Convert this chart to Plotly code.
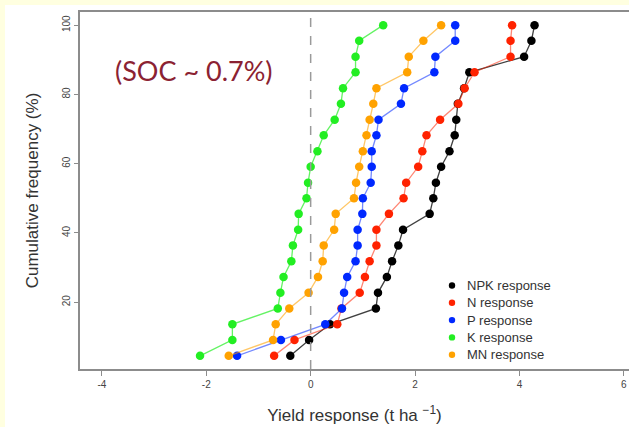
import plotly.graph_objects as go

# ---------------- data ----------------
cum_freq = [4.5, 9.1, 13.6, 18.2, 22.7, 27.3, 31.8, 36.4, 40.9, 45.5, 50.0,
            54.5, 59.1, 63.6, 68.2, 72.7, 77.3, 81.8, 86.4, 90.9, 95.5, 100.0]

npk_response = [-0.39, -0.03, 0.37, 1.25, 1.29, 1.46, 1.56, 1.68, 1.77, 2.28, 2.35,
                2.40, 2.50, 2.66, 2.76, 2.79, 2.82, 2.94, 3.04, 4.09, 4.23, 4.29]
n_response = [-0.70, -0.31, 0.51, 0.59, 0.94, 1.04, 1.13, 1.26, 1.26, 1.50, 1.78,
              1.83, 2.06, 2.14, 2.22, 2.48, 2.83, 2.95, 3.14, 3.83, 3.83, 3.86]
p_response = [-1.41, -0.57, 0.28, 0.60, 0.64, 0.70, 0.86, 0.90, 0.90, 0.99, 1.00,
              1.15, 1.17, 1.17, 1.26, 1.30, 1.73, 1.79, 2.37, 2.39, 2.77, 2.77]
k_response = [-2.12, -1.50, -1.50, -0.63, -0.58, -0.52, -0.37, -0.34, -0.24, -0.23, -0.08,
              -0.05, 0.00, 0.13, 0.25, 0.46, 0.58, 0.62, 0.86, 0.86, 0.93, 1.39]
mn_response = [-1.57, -0.72, -0.67, -0.41, -0.04, 0.14, 0.23, 0.25, 0.45, 0.48, 0.83,
               0.87, 0.93, 1.00, 1.07, 1.13, 1.20, 1.26, 1.85, 1.88, 2.16, 2.50]

series_names = ["NPK response", "N response", "P response", "K response", "MN response"]
series_values = [npk_response, n_response, p_response, k_response, mn_response]

x_tick_vals = [-4, -2, 0, 2, 4, 6]
x_tick_text = ["-4", "-2", "0", "2", "4", "6"]
y_tick_vals = [20, 40, 60, 80, 100]
y_tick_text = ["20", "40", "60", "80", "100"]

# ---------------- styling ----------------
marker_colors = ["#000000", "#FF2200", "#0028FF", "#22EE22", "#FFA200"]
line_colors = ["rgba(0,0,0,0.75)", "rgba(255,34,0,0.55)", "rgba(0,40,255,0.55)",
               "rgba(34,238,34,0.7)", "rgba(255,162,0,0.6)"]

W, H = 629, 427
L, R, T, B = 80, 0, 12, 58
PW, PH = W - L - R, H - T - B


def px_x(px):
    return (px - L) / PW


def px_y(py):
    return (H - B - py) / PH


FONT = "Liberation Sans, Arial, Helvetica, sans-serif"

fig = go.Figure()
for name, vals, mc, lc in zip(series_names, series_values, marker_colors, line_colors):
    fig.add_trace(go.Scatter(
        x=vals, y=cum_freq, name=name, mode="lines+markers",
        line=dict(color=lc, width=1.3),
        marker=dict(color=mc, size=8.5),
        showlegend=False,
    ))

shapes = [
    # white panel on pale-yellow page
    dict(type="rect", xref="paper", yref="paper", layer="below",
         x0=px_x(5), x1=1.0, y0=px_y(427), y1=px_y(5),
         fillcolor="white", line=dict(width=0)),
    # dashed zero line
    dict(type="line", xref="x", yref="paper", x0=0, x1=0, y0=0, y1=1,
         line=dict(color="#9a9a9a", width=1.5, dash="dash")),
]

annotations = [
    dict(text="(SOC ~ 0.7%)", xref="paper", yref="paper",
         x=px_x(194), y=px_y(70), xanchor="center", yanchor="middle",
         showarrow=False, font=dict(family="Lato, Noto Sans, sans-serif",
                                    size=27, color="#8B2232")),
]

# manual legend (dots + labels)
leg_x_dot, leg_x_text, leg_y0, leg_dy = 452, 465, 285.5, 17.3
for i, (name, mc) in enumerate(zip(series_names, marker_colors)):
    cy = leg_y0 + i * leg_dy
    r = 3.2
    shapes.append(dict(type="circle", xref="paper", yref="paper",
                       x0=px_x(leg_x_dot - r), x1=px_x(leg_x_dot + r),
                       y0=px_y(cy + r), y1=px_y(cy - r),
                       fillcolor=mc, line=dict(width=0)))
    annotations.append(dict(text=name, xref="paper", yref="paper",
                            x=px_x(leg_x_text), y=px_y(cy),
                            xanchor="left", yanchor="middle", showarrow=False,
                            font=dict(family=FONT, size=13, color="#333333")))

fig.update_layout(
    width=W, height=H,
    margin=dict(l=L, r=R, t=T, b=B, pad=0, autoexpand=False),
    paper_bgcolor="#FFFFE0",
    plot_bgcolor="white",
    font=dict(family=FONT, color="#444444"),
    shapes=shapes,
    annotations=annotations,
    showlegend=False,
)

fig.update_xaxes(
    range=[-4.42, 6.10], showgrid=False, zeroline=False,
    showline=True, linecolor="#8c8c8c", linewidth=1.5, mirror=True,
    ticks="outside", ticklen=5, tickwidth=1, tickcolor="#8c8c8c",
    tickvals=x_tick_vals, ticktext=x_tick_text,
    tickfont=dict(size=10, color="#444444"),
    title=dict(text="Yield response (t ha <sup>−1</sup>)",
               font=dict(size=17, color="#333333"), standoff=20),
)
fig.update_yaxes(
    range=[0.7, 103.8], showgrid=False, zeroline=False,
    showline=True, linecolor="#8c8c8c", linewidth=1.5, mirror=False,
    ticks="outside", ticklen=4, tickwidth=1, tickcolor="#8c8c8c",
    tickvals=y_tick_vals, ticktext=y_tick_text, tickangle=-90,
    tickfont=dict(size=10, color="#444444"),
    title=dict(text="Cumulative frequency (%)",
               font=dict(size=17, color="#333333"), standoff=18),
)

fig.write_html("out.html",
               config={"displayModeBar": False},
               post_script="document.body.style.margin='0px';document.body.style.padding='0px';")
